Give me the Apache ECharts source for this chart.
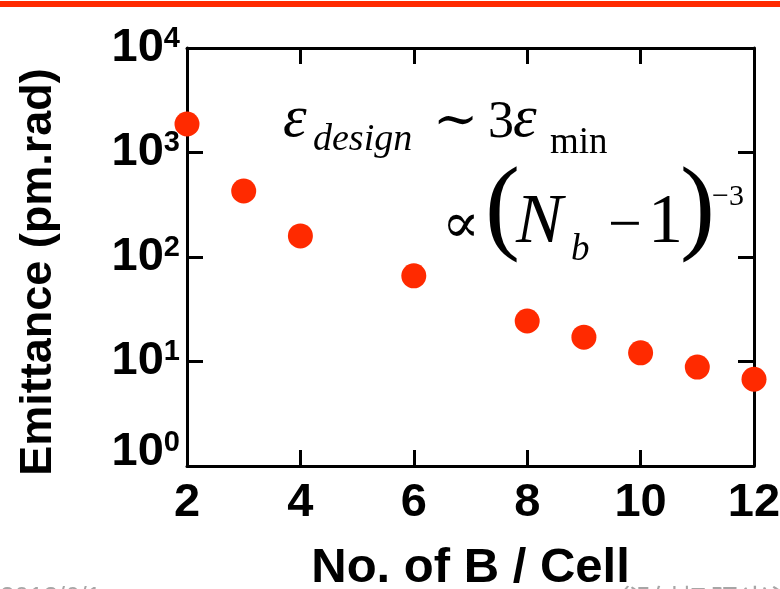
<!DOCTYPE html>
<html>
<head>
<meta charset="utf-8">
<script src="https://cdn.jsdelivr.net/npm/echarts@6/dist/echarts.min.js"></script>
<style>
html,body{margin:0;padding:0;background:#fff;}
#main{width:780px;height:589px;}
</style>
</head>
<body>
<div id="main"></div>
<script>
// ---- data ----
const bendsPerCell = [2, 3, 4, 6, 8, 9, 10, 11, 12];
const emittance = [1875, 428, 159, 66, 24.4, 17.1, 12.1, 8.85, 6.76];
const yTickValues = [1, 10, 100, 1000, 10000];
const yTickExponents = ['0', '1', '2', '3', '4'];
const xTickValues = [2, 4, 6, 8, 10, 12];
const xAxisTitle = 'No. of B / Cell';
const yAxisTitle = 'Emittance (pm.rad)';
const footerDate = '2012/6/1';
const footerText = '衍射极限光源';

const SANS = "'Liberation Sans', Arial, sans-serif";
const SERIF = "'Liberation Serif', 'Times New Roman', 'DejaVu Serif', serif";
const RED = '#ff2a00';

const chart = echarts.init(document.getElementById('main'), null, {renderer: 'canvas'});

const axisLineStyle = {show: true, lineStyle: {color: '#000', width: 3}};
const tickStyle = {show: true, inside: true, length: 16, lineStyle: {color: '#000', width: 3}};

function yLabel(v) {
  const i = yTickValues.findIndex(t => Math.abs(Math.log10(t) - Math.log10(v)) < 1e-6);
  if (i < 0) return '';
  const main = '{b|10}{s|' + yTickExponents[i] + '}';
  return i === 0 ? main + '\n{g| }' : main;
}

function txt(text, x, y, size, opts) {
  opts = opts || {};
  return {
    type: 'text', x: x, y: y, silent: true,
    style: {
      text: text,
      font: (opts.italic ? 'italic ' : '') + (opts.bold ? 'bold ' : '') + size + 'px ' + (opts.family || SERIF),
      fill: opts.fill || '#000',
      align: opts.align || 'left',
      verticalAlign: 'middle'
    }
  };
}

const option = {
  backgroundColor: '#fff',
  animation: false,
  grid: {left: 187, top: 48, right: 26, bottom: 123, outerBoundsMode: 'none', containLabel: false},
  xAxis: [{
    type: 'value', min: 2, max: 12, interval: 2, position: 'bottom',
    name: xAxisTitle, nameLocation: 'middle', nameGap: 72,
    nameTextStyle: {fontFamily: SANS, fontWeight: 'bold', fontSize: 49, color: '#000', lineHeight: 60},
    axisLine: axisLineStyle, axisTick: tickStyle,
    axisLabel: {
      show: true, margin: 12, color: '#000', fontFamily: SANS, fontWeight: 'bold', fontSize: 47,
      lineHeight: 50,
      formatter: v => (xTickValues.indexOf(v) >= 0 ? String(v) : '')
    },
    splitLine: {show: false}
  }, {
    type: 'value', min: 2, max: 12, interval: 2, position: 'top',
    axisLine: axisLineStyle, axisTick: tickStyle, axisLabel: {show: false}, splitLine: {show: false}
  }],
  yAxis: [{
    type: 'log', logBase: 10, min: 1, max: 10000, position: 'left',
    name: yAxisTitle, nameLocation: 'middle', nameGap: 120, nameRotate: 90,
    nameTextStyle: {fontFamily: SANS, fontWeight: 'bold', fontSize: 45, color: '#000', lineHeight: 56, padding: [0, 30, 0, 0]},
    axisLine: axisLineStyle, axisTick: tickStyle,
    axisLabel: {
      show: true, margin: 7, color: '#000',
      formatter: yLabel,
      rich: {
        b: {fontFamily: SANS, fontWeight: 'bold', fontSize: 47, lineHeight: 48, color: '#000'},
        s: {fontFamily: SANS, fontWeight: 'bold', fontSize: 29, lineHeight: 16, verticalAlign: 'top', color: '#000'},
        g: {fontSize: 2, lineHeight: 28}
      }
    },
    splitLine: {show: false}
  }, {
    type: 'log', logBase: 10, min: 1, max: 10000, position: 'right',
    axisLine: axisLineStyle, axisTick: tickStyle, axisLabel: {show: false}, splitLine: {show: false}
  }],
  series: [{
    type: 'scatter',
    xAxisIndex: 0, yAxisIndex: 0,
    symbol: 'circle', symbolSize: 25,
    itemStyle: {color: RED, opacity: 1},
    data: bendsPerCell.map((x, i) => [x, emittance[i]]),
    z: 10
  }],
  graphic: [
    {type: 'rect', shape: {x: 0, y: 1, width: 780, height: 6}, style: {fill: RED}, silent: true},
    txt('ε', 283, 120, 60, {italic: true}),
    txt('design', 313, 140, 38, {italic: true}),
    txt('∼', 433, 123, 54),
    txt('3', 488, 123, 52),
    txt('ε', 513, 120, 60, {italic: true}),
    txt('min', 550, 143, 37),
    txt('∝', 442, 227, 56),
    txt('(', 485, 212, 105),
    txt('N', 516, 224, 70, {italic: true}),
    txt('b', 571, 250, 37, {italic: true}),
    txt('−', 608, 227, 60),
    txt('1', 648, 224, 70),
    txt(')', 680, 212, 105),
    txt('−3', 712, 197, 30),
    txt(footerDate, 0, 598, 26, {family: "'Liberation Sans', sans-serif", fill: '#a6a6a6'}),
    txt(footerText, 620, 600, 30, {family: "'Noto Sans CJK SC', sans-serif", fill: '#a6a6a6'})
  ]
};
chart.setOption(option);
</script>
</body>
</html>
